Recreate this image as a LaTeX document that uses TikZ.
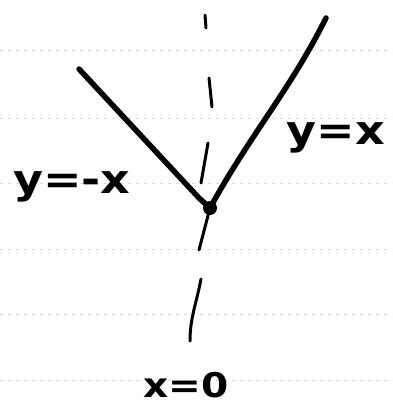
\documentclass[tikz,border=0pt]{standalone}
\usepackage{fontspec}
\setmainfont{DejaVu Sans}
\begin{document}
\begin{tikzpicture}[x=1pt,y=-1pt,
  curve/.style={line width=5.5pt,line cap=round},
  axisseg/.style={line width=3pt,line cap=round},
  rule/.style={gray!30,line width=0.5pt,dash pattern=on 3pt off 5pt},
  lbl/.style={font=\fontsize{40}{40}\selectfont\bfseries,inner sep=0pt,xscale=1.15}]
\useasboundingbox (0,0) rectangle (392,409);
% faint ruled paper lines
\foreach \yy in {50,118,183,249,314,380}
  \draw[rule] (0,\yy) -- (392,\yy);
% vertex
\coordinate (v) at (210,208);
\coordinate (l) at (79,69);
\coordinate (r) at (326,18);
\fill (v) circle (7pt);
\draw[curve] (l) -- (199,198) -- (v);
\draw[curve] (r) .. controls (290,90) and (250,135) .. (v);
% dashed axis x=0
\draw[axisseg] (205,15) -- (206,28);
\draw[axisseg] (209,78) -- (212,107);
\draw[axisseg] (208,143) -- (201,183);
\draw[axisseg] (v) -- (199,250);
\draw[axisseg] (201,279) .. controls (196,305) and (190,318) .. (190,341);
% labels
\node[lbl] (yneg) at (72,187) {y=-x};
\node[lbl] (ypos) at (336,138) {y=x};
\node[lbl,font=\fontsize{34}{34}\selectfont\bfseries] (x0) at (186,385) {x=0};
\end{tikzpicture}
\end{document}
